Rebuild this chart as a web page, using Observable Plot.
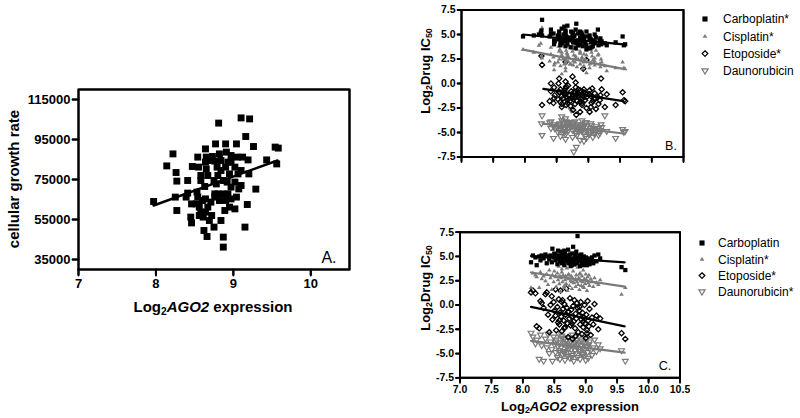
<!DOCTYPE html>
<html><head><meta charset="utf-8">
<script src="https://cdn.jsdelivr.net/npm/d3@7"></script>
<script src="https://cdn.jsdelivr.net/npm/@observablehq/plot@0.6"></script>
<style>
body{margin:0;background:#fff;}
#wrap{position:relative;width:800px;height:418px;overflow:hidden;font-family:"Liberation Sans",Arial,Helvetica,sans-serif;color:#000;background:#fff;}
.abs{position:absolute;}
.lbl{position:absolute;white-space:nowrap;line-height:1;transform:translate(-50%,-50%);}
.lbl sub{font-size:0.68em;vertical-align:-0.3em;line-height:0;}
</style></head><body><div id="wrap"></div>
<script>
// ---------- Panel A / B : cell lines (shared AGO2 expression) ----------
const ago2AB = [
7.97, 8.22, 8.14, 8.26, 8.27, 8.25, 8.27, 8.47, 8.39, 8.41,
8.46, 8.45, 8.46, 8.54, 8.55, 8.58, 8.58, 8.53, 8.52, 8.56,
8.58, 8.61, 8.56, 8.62, 8.66, 8.64, 8.65, 8.64, 8.65, 8.67,
8.63, 8.64, 8.67, 8.64, 8.69, 8.73, 8.76, 8.75, 8.72, 8.75,
8.84, 8.81, 8.77, 8.82, 8.84, 8.79, 8.84, 8.80, 8.87, 8.76,
8.82, 8.80, 8.87, 8.87, 8.89, 8.90, 8.91, 8.93, 8.90, 8.95,
8.92, 8.97, 8.93, 8.97, 8.95, 9.02, 9.04, 9.05, 9.02, 9.06,
9.07, 9.04, 9.10, 9.10, 9.21, 9.16, 9.19, 9.20, 9.18, 9.15,
9.26, 9.29, 9.43, 9.54, 9.58, 9.56, 8.76, 8.68, 8.97, 9.10,
9.12, 8.78, 9.02, 8.41, 8.60, 8.54, 8.71, 8.87, 8.90, 8.97];
const growthRate = [
64000, 87800, 81800, 78500, 74200, 66200, 59500, 81500, 66200, 68200,
62800, 56200, 53300, 86200, 81200, 77000, 74500, 68700, 62800, 61200,
58700, 56200, 57000, 49500, 46500, 90300, 86200, 83700, 80300, 77000,
71500, 65300, 61200, 58700, 54500, 86500, 67800, 74500, 57000, 51200,
54500, 103200, 92800, 87800, 84500, 81200, 79500, 77000, 74500, 66200,
64500, 67800, 46200, 41200, 59500, 92800, 88700, 83700, 81200, 77800,
73700, 71200, 67800, 65300, 61200, 60300, 92800, 86200, 81200, 77800,
70300, 66200, 72000, 105800, 105300, 96500, 84800, 77800, 62500, 51200,
91500, 70200, 84800, 91200, 90700, 82800, 84200, 84500, 87000, 79500,
86200, 72800, 73700, 74500, 64500, 66200, 63700, 67800, 64500, 83700];
const carboB = [
4.8, 5.0, 4.9, 5.4, 6.5, 5.2, 4.9, 4.3, 4.8, 5.5,
4.0, 5.1, 4.4, 5.3, 4.7, 4.1, 5.6, 4.5, 4.9, 3.9,
4.6, 5.0, 4.2, 5.8, 4.4, 5.2, 4.8, 3.8, 4.5, 5.9,
4.3, 5.4, 4.0, 4.9, 4.7, 5.3, 4.2, 5.0, 3.7, 4.6,
4.4, 6.1, 4.8, 4.1, 5.1, 4.3, 3.9, 5.5, 4.5, 4.9,
4.2, 3.6, 4.7, 4.0, 5.2, 4.4, 3.8, 4.6, 5.0, 4.1,
4.8, 3.9, 4.3, 5.3, 4.0, 4.6, 4.2, 3.7, 4.9, 4.4,
3.8, 4.5, 4.1, 5.0, 4.3, 3.9, 4.6, 4.0, 4.4, 5.5,
4.1, 3.9, 4.2, 4.8, 4.0, 3.9, 5.2, 4.6, 4.8, 4.3,
4.7, 4.9, 3.6, 5.1, 4.3, 4.9, 4.4, 5.3, 4.5, 3.5];
const cisB = [
3.5, 3.9, 3.2, 2.8, 5.7, 4.1, 2.6, 2.1, 2.3, 3.0,
1.4, 2.7, 1.9, 2.5, 3.5, 1.0, 2.9, 3.8, 2.2, 1.8,
3.2, 2.6, 4.0, 2.0, 3.1, 4.4, 2.4, 1.6, 3.4, 2.8,
3.9, 2.1, 3.0, 1.3, 2.7, 4.6, 2.3, 3.6, 2.0, 3.3,
2.5, 4.2, 2.9, 1.7, 3.8, 2.2, 4.5, 2.6, 3.1, 1.9,
3.5, 2.8, 2.0, 3.3, 2.4, 4.1, 1.5, 3.0, 2.7, 4.3,
2.2, 3.4, 1.8, 2.9, 2.5, 3.7, 2.1, 3.2, 1.6, 2.8,
2.4, 3.5, 1.9, 2.6, 2.2, 3.0, 1.7, 2.5, 2.0, 2.9,
1.8, 1.3, 1.6, 2.2, 1.5, 1.6, 3.9, 2.3, 3.6, 2.3,
3.4, 4.0, 2.0, 3.7, 2.5, 3.3, 2.0, 3.1, 2.6, 1.1];
const etopB = [
null, null, null, 2.8, -2.2, null, 1.9, -1.2, -1.8, -0.8,
-0.4, -2.0, -1.5, 0.5, -0.9, -1.3, -2.1, 0.0, -1.6, -0.6,
-2.4, -1.0, -1.9, -0.7, -1.4, 0.2, -2.2, -1.1, -0.3, -1.7,
-1.0, 2.2, -2.0, -0.5, -1.2, -0.8, -1.6, 0.7, -2.3, -1.4,
-1.0, -3.2, -0.9, -1.8, -0.6, -2.1, -1.3, 0.1, -1.5, -2.7,
-1.1, -0.4, -1.9, -2.9, -0.8, -1.6, -1.2, -0.6, -2.2, -1.0,
1.5, -1.4, -0.9, -2.5, -1.7, -0.7, -1.3, -2.0, -1.1, -0.5,
-1.8, -2.4, -1.0, -1.5, -0.6, -2.1, -1.2, 0.5, -1.7, -1.4,
-2.4, -1.1, -2.2, -0.9, -1.8, -1.7, -1.2, -0.2, 2.4, -1.6,
-2.6, -1.4, -2.9, 0.0, -1.5, -0.9, -1.8, -0.7, -2.0, -1.1];
const daunoB = [
null, null, null, -4.1, -3.3, null, -5.3, -4.6, -4.0, -3.9,
-4.4, -5.6, -4.2, -4.8, -4.1, -4.5, -3.8, -4.3, -5.0, -4.7,
-3.4, -4.0, -5.4, -4.6, -4.2, -4.9, -3.9, -5.7, -4.4, -4.0,
-4.7, -3.6, -4.3, -5.2, -4.5, -2.7, -4.1, -4.8, -4.4, -5.5,
-4.6, -6.5, -7.0, -4.2, -4.9, -3.9, -4.4, -5.1, -4.7, -4.0,
-5.3, -4.5, -5.8, -4.3, -4.8, -3.8, -4.6, -5.0, -4.2, -5.4,
-4.5, -4.9, -5.9, -4.4, -4.0, -5.0, -4.6, -4.3, -5.2, -4.8,
-5.5, -4.1, -4.7, -5.0, -4.5, -5.3, -4.8, -4.2, -5.1, -4.6,
-3.3, -4.9, -5.6, -4.7, -4.9, -5.0, -4.3, -4.9, -4.0, -5.2,
-4.4, -4.7, -5.0, -4.6, -5.1, -4.2, -4.0, -4.5, -4.9, -5.6];

// ---------- Panel C ----------
const ago2C = [
8.13, 8.16, 8.20, 8.22, 8.26, 8.28, 8.30, 8.33, 8.36, 8.38,
8.40, 8.42, 8.44, 8.46, 8.47, 8.49, 8.50, 8.52, 8.53, 8.55,
8.56, 8.57, 8.58, 8.59, 8.60, 8.61, 8.62, 8.63, 8.64, 8.65,
8.66, 8.67, 8.68, 8.69, 8.70, 8.71, 8.72, 8.73, 8.74, 8.75,
8.76, 8.77, 8.78, 8.79, 8.80, 8.81, 8.82, 8.83, 8.84, 8.85,
8.86, 8.87, 8.88, 8.89, 8.90, 8.91, 8.92, 8.93, 8.94, 8.95,
8.96, 8.97, 8.98, 8.99, 9.00, 9.01, 9.02, 9.03, 9.04, 9.05,
9.06, 9.08, 9.10, 9.12, 9.14, 9.17, 9.20, 9.23, 9.57, 9.63,
8.58, 8.62, 8.66, 8.72, 8.78, 8.84, 8.90, 8.96, 9.02, 8.52];
const carboC = [
4.4, 5.1, 4.9, 4.1, 5.0, 4.6, 5.1, 4.8, 5.2, 4.3,
5.0, 4.7, 5.1, 4.4, 5.8, 4.9, 5.3, 4.6, 5.0, 4.2,
5.6, 4.8, 5.1, 4.5, 5.5, 4.9, 4.3, 5.2, 4.7, 5.0,
4.1, 5.4, 4.8, 4.5, 5.1, 4.6, 5.7, 4.3, 4.9, 5.2,
4.0, 4.7, 5.3, 4.4, 6.0, 4.8, 4.2, 5.0, 4.6, 5.5,
4.3, 7.1, 4.9, 4.5, 5.1, 4.0, 4.7, 5.2, 4.4, 4.8,
4.1, 5.0, 4.6, 4.3, 4.9, 4.5, 4.1, 4.8, 4.4, 4.7,
4.2, 4.6, 4.9, 4.3, 5.1, 4.5, 5.2, 4.8, 3.9, 3.6,
5.0, 4.4, 5.6, 4.7, 4.1, 5.3, 4.5, 4.9, 4.3, 5.2];
const cisC = [
1.8, 3.3, 3.1, 2.9, 1.8, 3.4, 2.7, 3.0, 2.5, 3.2,
2.1, 3.6, 2.8, 1.6, 3.1, 2.4, 3.5, 2.9, 1.9, 3.3,
2.6, 4.0, 2.2, 3.0, 1.4, 2.8, 3.7, 2.4, 3.1, 1.8,
4.3, 2.6, 3.0, 2.2, 3.8, 1.5, 2.7, 3.2, 2.0, 4.4,
2.5, 3.0, 1.7, 2.8, 3.5, 2.3, 4.1, 2.6, 1.9, 3.1,
2.4, 3.9, 2.1, 2.8, 1.6, 3.3, 2.5, 2.0, 3.0, 2.4,
3.6, 1.8, 2.7, 2.2, 3.2, 2.6, 1.5, 2.9, 2.3, 3.1,
2.0, 2.7, 2.4, 1.9, 2.8, 2.3, 2.1, 2.6, 1.1, 1.8,
2.9, 3.4, 2.0, 3.1, 2.4, 2.7, 3.2, 1.9, 2.5, 3.0];
const etopC = [
1.3, 1.5, 1.2, -2.2, -2.4, 0.4, 0.2, -0.3, 1.1, 1.3,
-1.0, -2.8, 0.0, 0.9, -1.5, 0.3, -0.6, 1.6, -2.6, -0.2,
-1.8, 0.6, -2.0, -0.8, 1.5, -1.2, -2.7, 0.5, -0.4, -1.6,
0.1, -2.3, -1.0, 1.7, -0.3, -1.9, -3.3, -0.7, -1.4, 0.7,
-2.1, -0.5, -1.2, -3.5, -0.1, -1.7, 0.5, -2.4, -0.9, -1.4,
0.2, -0.3, -2.8, -1.1, -0.6, -2.0, 0.3, -1.5, -3.0, -0.8,
-2.3, -1.3, 0.0, -1.9, -3.4, -1.0, -2.6, 0.4, -1.6, -2.2,
-0.4, -3.1, -1.3, -2.0, 0.1, -1.1, -2.5, -1.4, -2.9, -3.5,
-1.6, 0.3, -2.4, -0.7, -1.9, -3.2, -0.2, -1.7, -2.9, -1.1];
const daunoC = [
-2.9, -3.3, -4.0, -3.6, -5.6, -3.1, -4.2, -5.8, -3.5, -4.4,
-3.0, -5.0, -3.8, -4.6, -5.8, -3.3, -4.1, -4.9, -3.6, -5.4,
-4.3, -3.0, -4.7, -5.6, -3.9, -4.4, -3.2, -5.1, -4.0, -4.8,
-3.5, -5.7, -4.2, -3.7, -4.9, -5.3, -3.4, -4.5, -4.0, -5.5,
-3.8, -4.6, -5.2, -3.1, -4.3, -5.8, -3.9, -4.7, -5.0, -3.6,
-4.4, -5.4, -4.1, -3.3, -4.8, -5.6, -4.2, -3.7, -5.1, -4.5,
-3.9, -5.3, -4.6, -4.0, -5.7, -4.3, -3.5, -4.9, -5.5, -4.1,
-3.8, -4.7, -5.2, -4.4, -3.6, -4.8, -4.1, -4.5, -4.7, -5.8,
-4.9, -3.4, -5.0, -4.2, -5.4, -3.9, -4.6, -5.1, -4.3, -3.8];

// ---------- Fitted regression lines ----------
const fitA_x = [7.97, 9.57], fitA_y = [62000, 84500];
const fitB = {
  carbo: {x: [7.97, 9.55], y: [5.0, 4.0]},
  cis:   {x: [7.97, 9.55], y: [3.45, 1.5]},
  etop:  {x: [8.29, 9.55], y: [-0.55, -1.8]},
  dauno: {x: [8.28, 9.55], y: [-4.1, -5.1]}
};
const fitC = {
  carbo: {x: [8.13, 9.62], y: [5.05, 4.4]},
  cis:   {x: [8.13, 9.62], y: [3.35, 1.9]},
  etop:  {x: [8.13, 9.62], y: [-0.2, -2.2]},
  dauno: {x: [8.13, 9.62], y: [-3.7, -4.9]}
};

// ---------- Axes: domains and tick labels ----------
const xDomain = [7, 10.5];
const yDomainA = [30000, 120000];
const yDomainBC = [-7.5, 7.5];
const xTicksA = [7, 8, 9, 10];
const yTicksA = [35000, 55000, 75000, 95000, 115000];
const xTicksBC = [7.0, 7.5, 8.0, 8.5, 9.0, 9.5, 10.0, 10.5];
const yTicksBC = [-7.5, -5.0, -2.5, 0.0, 2.5, 5.0, 7.5];
const legendB = ["Carboplatin*", "Cisplatin*", "Etoposide*", "Daunorubicin"];
const legendC = ["Carboplatin", "Cisplatin*", "Etoposide*", "Daunorubicin*"];

// ---------- Styles / symbols ----------
const FONT = '"Liberation Sans", Arial, Helvetica, sans-serif';
const BLACK = "#000000";
const GRAY = "#7a7a7a";
const symDiamond = {draw(ctx, size){const r=Math.sqrt(size/Math.PI); ctx.moveTo(0,-r); ctx.lineTo(r,0); ctx.lineTo(0,r); ctx.lineTo(-r,0); ctx.closePath();}};
const symTriDown = {draw(ctx, size){const r=Math.sqrt(size/Math.PI); ctx.moveTo(-r,-0.65*r); ctx.lineTo(r,-0.65*r); ctx.lineTo(0,r); ctx.closePath();}};
const symTriUp = {draw(ctx, size){const r=Math.sqrt(size/Math.PI); ctx.moveTo(-r,0.65*r); ctx.lineTo(r,0.65*r); ctx.lineTo(0,-r); ctx.closePath();}};
const tickShape = {draw(ctx, l){ctx.moveTo(0,0); ctx.lineTo(0,-l);}};
const seriesStyle = {
  carbo: {symbol: "square", r: 2.4, fill: BLACK, stroke: "none", line: BLACK},
  cis:   {symbol: symTriUp, r: 2.3, fill: GRAY, stroke: "none", line: GRAY},
  etop:  {symbol: symDiamond, r: 2.6, fill: "none", stroke: BLACK, strokeWidth: 1.3, line: BLACK},
  dauno: {symbol: symTriDown, r: 2.9, fill: "none", stroke: GRAY, strokeWidth: 1.2, line: GRAY}
};
const fmt1 = d => d.toFixed(1);

const wrap = document.getElementById("wrap");
function place(node, left, top, w) {
  const d = document.createElement("div");
  d.className = "abs"; d.style.left = left + "px"; d.style.top = top + "px"; d.style.width = w + "px";
  d.appendChild(node); wrap.appendChild(d);
}
function label(html, x, y, size, weight, rot) {
  const d = document.createElement("div");
  d.className = "lbl"; d.innerHTML = html;
  d.style.left = x + "px"; d.style.top = y + "px";
  d.style.fontSize = size + "px"; d.style.fontWeight = weight;
  if (rot) d.style.transform = "translate(-50%,-50%) rotate(-90deg)";
  wrap.appendChild(d);
}
const pts = (xs, ys) => xs.map((x, i) => ({x, y: ys[i]})).filter(d => d.y != null);
const fitPts = f => f.x.map((x, i) => ({x, y: f.y[i]}));

// box outline along the scale domains (drawn as a line mark) and outward ticks
function boxMarks(xd, yd, xTicks, yTicks, xLen, yLen, sw) {
  const corners = [[xd[0], yd[0]], [xd[1], yd[0]], [xd[1], yd[1]], [xd[0], yd[1]], [xd[0], yd[0]]];
  return [
    Plot.line(corners, {x: d => d[0], y: d => d[1], stroke: BLACK, strokeWidth: 2, strokeLinejoin: "miter", strokeLinecap: "square"}),
    Plot.vector(xTicks, {x: d => d, y: () => yd[0], length: xLen, rotate: 180, anchor: "start", shape: tickShape, stroke: BLACK, strokeWidth: sw}),
    Plot.vector(yTicks, {x: () => xd[0], y: d => d, length: yLen, rotate: -90, anchor: "start", shape: tickShape, stroke: BLACK, strokeWidth: sw})
  ];
}
function safePlot(opts, extra) {
  try { return Plot.plot({...opts, marks: [...opts.marks, ...extra()]}); }
  catch (e) { return Plot.plot(opts); }
}

// ---------- Panel A ----------
const optsA = {
  width: 360, height: 300,
  marginLeft: 78, marginRight: 11, marginTop: 89, marginBottom: 31,
  x: {domain: xDomain}, y: {domain: yDomainA},
  style: {fontFamily: FONT, fontSize: "13px", fontWeight: "bold", background: "transparent"},
  marks: [
    Plot.axisY({ticks: yTicksA, tickSize: 6, tickPadding: 2, stroke: BLACK, strokeWidth: 2, fill: BLACK, tickFormat: d3.format("d"), label: null}),
    Plot.axisX({ticks: xTicksA, tickSize: 6, tickPadding: 3, stroke: BLACK, strokeWidth: 2, fill: BLACK, tickFormat: d3.format("d"), label: null}),
    Plot.dot(pts(ago2AB, growthRate), {x: "x", y: "y", symbol: "square", r: 3.9, fill: BLACK}),
    Plot.line(fitPts({x: fitA_x, y: fitA_y}), {x: "x", y: "y", stroke: BLACK, strokeWidth: 2.4}),
    Plot.frame({stroke: BLACK, strokeWidth: 2})
  ]
};
place(safePlot(optsA, () => boxMarks(xDomain, yDomainA, xTicksA, yTicksA, 6, 6, 2)), 0, 0, 360);

// ---------- Drug panels ----------
function drugPlot(xs, ys, fits, o) {
  const marks = [
    Plot.axisY({ticks: yTicksBC, tickSize: 4, tickPadding: 2, stroke: BLACK, strokeWidth: 1.8, fill: BLACK, tickFormat: fmt1, label: null}),
    Plot.axisX({ticks: xTicksBC, tickSize: 5, tickPadding: 3, stroke: BLACK, strokeWidth: 1.8, fill: BLACK, tickFormat: o.xLabels ? fmt1 : () => "", label: null})
  ];
  for (const k of ["dauno", "etop", "cis", "carbo"]) {
    const s = seriesStyle[k];
    marks.push(Plot.dot(pts(xs, ys[k]), {x: "x", y: "y", symbol: s.symbol, r: s.r, fill: s.fill, stroke: s.stroke, strokeWidth: s.strokeWidth || 1}));
  }
  for (const k of ["dauno", "etop", "cis", "carbo"]) {
    marks.push(Plot.line(fitPts(fits[k]), {x: "x", y: "y", stroke: seriesStyle[k].line, strokeWidth: 2.2}));
  }
  marks.push(Plot.frame({stroke: BLACK, strokeWidth: 2}));
  const opts = {
    width: o.width, height: o.height,
    marginLeft: o.ml, marginRight: o.mr, marginTop: o.mt, marginBottom: o.mb,
    x: {domain: xDomain}, y: {domain: yDomainBC},
    style: {fontFamily: FONT, fontSize: "10.5px", fontWeight: "bold", background: "transparent"},
    marks
  };
  return safePlot(opts, () => boxMarks(xDomain, yDomainBC, xTicksBC, yTicksBC, 5, 4, 1.8));
}
place(drugPlot(ago2AB, {carbo: carboB, cis: cisB, etop: etopB, dauno: daunoB}, fitB,
  {width: 290, height: 170, ml: 61, mr: 7, mt: 9.5, mb: 13.5, xLabels: false}), 400, 0, 290);
place(drugPlot(ago2C, {carbo: carboC, cis: cisC, etop: etopC, dauno: daunoC}, fitC,
  {width: 290, height: 180, ml: 59.5, mr: 10.5, mt: 11.7, mb: 22.7, xLabels: true}), 400, 220, 290);

// ---------- Legends ----------
function legend(names, left, top, symX, textX, dy) {
  const svg = d3.create("svg").attr("width", 110).attr("height", 4 * dy + 10)
    .style("font-family", FONT).style("font-size", "12px");
  const keys = ["carbo", "cis", "etop", "dauno"];
  const legR = {carbo: 2.9, cis: 2.4, etop: 2.8, dauno: 3.1};
  keys.forEach((k, i) => {
    const s = seriesStyle[k];
    const sym = typeof s.symbol === "string" ? d3.symbolSquare : s.symbol;
    const r = legR[k];
    svg.append("path").attr("transform", `translate(${symX},${6 + i * dy})`)
      .attr("d", d3.symbol(sym, r * r * Math.PI)())
      .attr("fill", s.fill).attr("stroke", s.stroke).attr("stroke-width", s.strokeWidth || 0);
    svg.append("text").attr("x", textX).attr("y", 6 + i * dy).attr("dy", "0.36em").attr("fill", BLACK).text(names[i]);
  });
  place(svg.node(), left, top, 110);
}
legend(legendB, 696, 13, 9, 27, 17.3);
legend(legendC, 694, 237, 8, 24, 16.3);

// ---------- Axis titles & panel letters ----------
label("cellular growth rate", 13, 179, 15, "bold", true);
label("Log<sub>2</sub><i>AGO2</i> expression", 213, 306, 15, "bold");
label("A.", 329, 258, 16, "normal");
label("Log<sub>2</sub>Drug IC<sub>50</sub>", 425, 71, 13, "bold", true);
label("B.", 671, 146, 12.5, "normal");
label("Log<sub>2</sub>Drug IC<sub>50</sub>", 425, 288, 13, "bold", true);
label("Log<sub>2</sub><i>AGO2</i> expression", 570, 406, 13, "bold");
label("C.", 665, 366, 12.5, "normal");
</script>
</body></html>
